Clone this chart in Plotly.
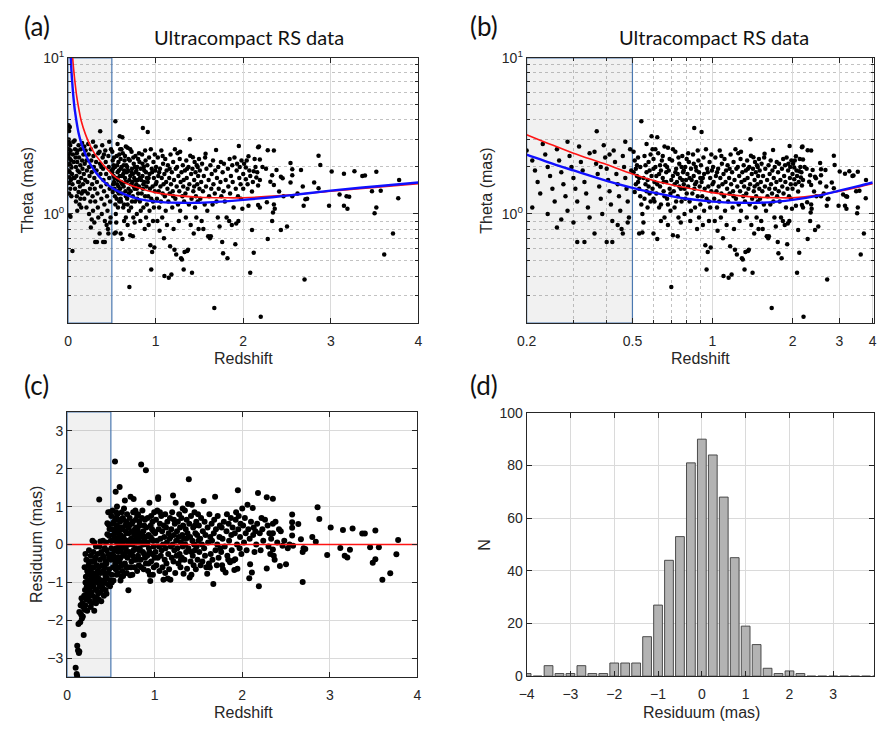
import math
import plotly.graph_objects as go

# ---------------------------------------------------------------- data
# Angular size (mas) against redshift for the ultracompact radio sources
redshift = [
    # z < 0.07
    0.006, 0.012, 0.02, 0.008, 0.015, 0.025, 0.01, 0.03, 0.018, 0.005,
    0.022, 0.035, 0.012, 0.028, 0.04, 0.008, 0.02, 0.045, 0.015, 0.032,
    0.01, 0.05, 0.025, 0.012, 0.038, 0.018, 0.028, 0.05, 0.06, 0.055,
    0.065, 0.06,
    # 0.07 - 0.2
    0.075, 0.08, 0.085, 0.09, 0.095, 0.1, 0.105, 0.11, 0.115, 0.12,
    0.125, 0.13, 0.135, 0.14, 0.145, 0.15, 0.155, 0.16, 0.165, 0.17,
    0.175, 0.18, 0.185, 0.19, 0.195, 0.08, 0.09, 0.1, 0.13, 0.15,
    0.17, 0.12, 0.11, 0.16, 0.14, 0.185, 0.195, 0.075, 0.125, 0.105,
    # 0.2 - 0.35
    0.2, 0.21, 0.215, 0.22, 0.225, 0.23, 0.235, 0.24, 0.245, 0.25,
    0.255, 0.26, 0.265, 0.27, 0.275, 0.28, 0.285, 0.29, 0.295, 0.3,
    0.305, 0.31, 0.315, 0.32, 0.325, 0.33, 0.335, 0.34, 0.345, 0.31,
    0.27, 0.24, 0.3, 0.21, 0.33, 0.26, 0.345, 0.285,
    # 0.35 - 0.5
    0.367, 0.36, 0.365, 0.37, 0.375, 0.38, 0.385, 0.39, 0.395, 0.4,
    0.405, 0.41, 0.415, 0.42, 0.425, 0.43, 0.435, 0.44, 0.445, 0.45,
    0.455, 0.46, 0.465, 0.47, 0.475, 0.48, 0.485, 0.49, 0.495, 0.36,
    0.42, 0.46, 0.4, 0.44, 0.48, 0.38, 0.41, 0.47,
    # 0.5 - 0.6
    0.505, 0.51, 0.515, 0.52, 0.525, 0.53, 0.535, 0.54, 0.545, 0.55,
    0.54, 0.555, 0.56, 0.565, 0.57, 0.575, 0.58, 0.585, 0.59, 0.595,
    0.6, 0.505, 0.51, 0.52, 0.53, 0.545, 0.55, 0.56, 0.565, 0.57,
    0.58, 0.59, 0.595, 0.6, 0.515, 0.525, 0.535, 0.575, 0.585, 0.6,
    0.62, 0.555, 0.6, 0.53, 0.565,
    # 0.6 - 0.7
    0.605, 0.61, 0.615, 0.62, 0.625, 0.63, 0.635, 0.64, 0.645, 0.65,
    0.655, 0.66, 0.665, 0.67, 0.675, 0.68, 0.685, 0.69, 0.695, 0.7,
    0.61, 0.62, 0.63, 0.64, 0.65, 0.66, 0.67, 0.68, 0.69, 0.7,
    0.605, 0.615, 0.635, 0.655, 0.675, 0.695, 0.71, 0.64, 0.68, 0.66,
    # 0.7 - 0.8
    0.705, 0.71, 0.715, 0.72, 0.725, 0.73, 0.735, 0.74, 0.745, 0.75,
    0.755, 0.76, 0.765, 0.77, 0.775, 0.78, 0.785, 0.79, 0.795, 0.8,
    0.71, 0.72, 0.73, 0.74, 0.75, 0.76, 0.77, 0.78, 0.79, 0.8,
    0.725, 0.745, 0.765, 0.785, 0.74,
    # 0.8 - 0.9
    0.805, 0.81, 0.815, 0.82, 0.825, 0.83, 0.835, 0.84, 0.845, 0.85,
    0.854, 0.855, 0.86, 0.865, 0.87, 0.875, 0.88, 0.885, 0.89, 0.895,
    0.9, 0.81, 0.83, 0.85, 0.87, 0.89, 0.82, 0.86, 0.88, 0.9,
    # 0.9 - 1.0
    0.91, 0.905, 0.91, 0.915, 0.92, 0.925, 0.93, 0.935, 0.94, 0.945,
    0.95, 0.955, 0.96, 0.965, 0.97, 0.975, 0.98, 0.985, 0.99, 0.995,
    0.93, 0.95, 0.97, 0.99, 0.92, 0.96, 0.98, 1.0,
    # 1.0 - 1.25
    1.005, 1.01, 1.015, 1.02, 1.025, 1.03, 1.035, 1.04, 1.045, 1.05,
    1.055, 1.06, 1.065, 1.07, 1.075, 1.08, 1.085, 1.09, 1.095, 1.1,
    1.1, 1.105, 1.11, 1.115, 1.12, 1.125, 1.13, 1.135, 1.14, 1.145,
    1.15, 1.155, 1.16, 1.165, 1.17, 1.175, 1.18, 1.185, 1.19, 1.195,
    1.2, 1.205, 1.21, 1.215, 1.22, 1.225, 1.23, 1.235, 1.24, 1.245,
    1.25, 1.04, 1.08, 1.16, 1.2,
    # 1.25 - 1.5
    1.255, 1.26, 1.265, 1.27, 1.275, 1.28, 1.285, 1.29, 1.295, 1.3,
    1.305, 1.31, 1.315, 1.32, 1.325, 1.33, 1.335, 1.34, 1.345, 1.35,
    1.355, 1.36, 1.365, 1.37, 1.375, 1.38, 1.385, 1.39, 1.395, 1.4,
    1.405, 1.41, 1.415, 1.42, 1.425, 1.43, 1.435, 1.44, 1.445, 1.45,
    1.455, 1.46, 1.465, 1.47, 1.475, 1.48, 1.485, 1.49, 1.495, 1.5,
    1.28, 1.32, 1.36, 1.44, 1.48,
    # 1.5 - 1.75
    1.505, 1.51, 1.52, 1.525, 1.53, 1.54, 1.545, 1.55, 1.56, 1.565,
    1.57, 1.575, 1.58, 1.59, 1.6, 1.605, 1.61, 1.62, 1.625, 1.63,
    1.635, 1.64, 1.65, 1.655, 1.66, 1.67, 1.675, 1.68, 1.69, 1.695,
    1.7, 1.71, 1.715, 1.72, 1.73, 1.74, 1.745, 1.75,
    # 1.75 - 2.0
    1.76, 1.765, 1.77, 1.775, 1.78, 1.79, 1.8, 1.81, 1.82, 1.825,
    1.83, 1.84, 1.845, 1.85, 1.86, 1.87, 1.875, 1.88, 1.89, 1.9,
    1.91, 1.915, 1.92, 1.925, 1.93, 1.94, 1.945, 1.95, 1.955, 1.96,
    1.97, 1.975, 1.98, 1.99, 2.0,
    # 2.0 - 2.2
    2.03, 2.08, 2.12, 2.15, 2.17, 2.03, 2.1, 2.06, 2.17, 2.08,
    2.12, 2.1, 2.06, 2.13, 2.17, 2.01, 2.05, 2.14, 2.0, 2.04,
    2.11, 2.16, 2.19, 2.07,
    # 2.2 - 2.55
    2.19, 2.22, 2.26, 2.31, 2.33, 2.35, 2.38, 2.41, 2.43, 2.45,
    2.46, 2.54, 2.35, 2.36, 2.34, 2.33, 2.43, 2.5, 2.28, 2.19,
    2.27, 2.28, 2.35, 2.18, 2.2, 2.54,
    # z > 2.55
    2.56, 2.56, 2.56, 2.62, 2.66, 2.68, 2.71, 2.73, 2.69, 2.7,
    2.81, 2.86, 2.88, 2.86, 2.98, 3.01, 3.1, 3.15, 3.18, 3.21,
    3.15, 3.19, 3.27, 3.36, 3.39, 3.47, 3.52, 3.57, 3.52, 3.5,
    3.71, 3.61, 3.78, 3.77,
]

theta = [
    3.7, 3.4, 3.6, 3.0, 2.85, 2.75, 2.6, 2.55, 2.45, 2.35,
    2.25, 2.2, 2.1, 2.05, 1.98, 1.9, 1.85, 1.8, 1.72, 1.65,
    1.58, 1.55, 1.45, 1.35, 1.3, 0.98, 0.96, 0.58, 2.9, 2.4,
    2.15, 1.7,
    2.95, 2.6, 2.3, 2.0, 1.75, 2.45, 2.15, 1.9, 1.6, 2.75,
    2.3, 1.85, 1.5, 2.05, 2.6, 1.7, 1.35, 2.2, 1.95, 1.55,
    2.4, 1.8, 1.25, 2.1, 1.65, 1.45, 1.2, 1.3, 1.15, 1.1,
    1.4, 1.38, 2.55, 2.85, 1.25, 2.7, 1.4, 1.7, 1.6, 1.05,
    2.55, 2.2, 1.9, 1.6, 1.35, 2.8, 2.4, 2.0, 1.75, 1.45,
    1.2, 2.6, 2.2, 1.85, 1.55, 1.3, 1.05, 2.35, 2.0, 1.7,
    1.45, 1.2, 2.7, 2.15, 1.9, 1.6, 1.35, 1.1, 0.95, 0.66,
    0.92, 1.0, 0.88, 1.1, 0.66, 0.82, 2.45, 2.9,
    3.38, 2.5, 2.1, 1.8, 1.5, 1.25, 1.0, 2.75, 2.3, 1.95,
    1.65, 1.4, 1.15, 0.9, 2.55, 2.15, 1.8, 1.55, 1.3, 1.05,
    0.8, 2.35, 2.0, 1.7, 1.45, 1.2, 0.95, 2.6, 1.9, 0.75,
    0.66, 0.75, 0.66, 0.85, 0.88, 2.0, 2.4, 2.9,
    2.5, 2.2, 1.95, 1.75, 1.6, 1.45, 1.3, 1.15, 1.0, 0.88,
    3.93, 2.35, 2.05, 1.85, 1.65, 1.5, 1.35, 1.2, 3.15, 2.6,
    2.25, 1.85, 1.38, 2.05, 0.75, 0.76, 1.7, 1.55, 2.8, 1.1,
    1.9, 1.75, 1.45, 1.25, 1.55, 2.3, 2.0, 2.15, 2.4, 0.75,
    3.1, 1.25, 1.95, 1.7, 1.4,
    1.6, 2.0, 1.35, 0.69, 2.45, 1.8, 1.5, 1.15, 2.2, 1.7,
    1.4, 0.95, 2.05, 1.6, 1.25, 2.65, 1.9, 1.45, 1.05, 0.34,
    2.6, 1.55, 1.1, 1.9, 2.35, 1.3, 1.85, 1.15, 2.25, 1.65,
    1.2, 1.75, 2.05, 1.6, 2.0, 1.35, 0.73, 0.9, 0.85, 2.7,
    2.2, 1.75, 1.4, 1.1, 2.5, 1.95, 1.6, 1.3, 0.95, 2.1,
    1.7, 1.45, 1.2, 2.35, 1.85, 1.55, 1.0, 2.0, 1.65, 1.35,
    2.6, 1.55, 1.2, 1.8, 1.5, 0.88, 1.65, 1.9, 1.25, 2.25,
    1.85, 2.3, 2.0, 1.45, 0.72,
    1.8, 1.5, 2.15, 1.2, 0.9, 1.95, 1.65, 1.35, 2.4, 1.75,
    3.55, 1.45, 1.1, 2.0, 1.6, 0.8, 1.3, 2.2, 1.85, 1.5,
    1.15, 2.45, 1.05, 2.1, 1.9, 0.95, 1.7, 1.55, 2.55, 1.7,
    3.35, 2.05, 1.6, 1.3, 0.85, 2.3, 1.8, 1.45, 0.63, 2.6,
    0.44, 1.95, 0.57, 1.5, 1.2, 2.15, 1.7, 0.61, 1.4, 1.9,
    1.05, 1.25, 0.9, 2.4, 1.7, 1.85, 1.1, 1.55,
    2.0, 1.6, 1.25, 0.9, 2.3, 1.75, 1.4, 1.1, 0.78, 1.95,
    1.5, 1.2, 2.55, 1.7, 0.95, 1.35, 2.1, 1.55, 0.7, 1.8,
    0.4, 1.3, 2.25, 1.05, 1.6, 1.9, 0.85, 1.45, 2.05, 1.2,
    0.39, 1.7, 1.35, 0.62, 2.4, 1.55, 0.41, 1.85, 1.1, 1.4,
    2.15, 0.8, 1.65, 0.59, 2.6, 1.25, 1.95, 0.55, 1.5, 2.0,
    2.45, 1.85, 2.35, 1.95, 1.3,
    1.15, 1.75, 0.9, 1.4, 2.25, 1.05, 1.6, 0.52, 1.85, 0.51,
    1.3, 2.05, 1.5, 0.44, 1.2, 0.57, 1.9, 1.35, 0.95, 2.2,
    1.7, 0.58, 1.45, 0.59, 2.0, 1.15, 1.55, 3.01, 2.36, 0.85,
    1.8, 1.25, 0.42, 1.95, 2.31, 1.4, 0.75, 1.65, 2.15, 1.1,
    1.85, 1.3, 0.95, 2.05, 1.55, 1.2, 1.75, 0.8, 2.25, 1.45,
    2.5, 1.65, 1.95, 1.5, 2.0,
    1.9, 1.25, 1.6, 0.9, 2.1, 1.4, 0.8, 1.75, 1.15, 2.3,
    2.43, 1.5, 1.95, 1.05, 0.72, 1.65, 1.3, 0.7, 2.05, 0.72,
    1.45, 1.8, 1.15, 2.2, 1.55, 0.25, 1.35, 1.9, 2.57, 1.2,
    1.7, 0.95, 2.0, 1.45, 0.83, 1.6, 2.15, 1.3,
    0.66, 1.85, 0.56, 1.4, 2.1, 1.2, 1.65, 0.95, 0.52, 1.95,
    1.5, 0.9, 2.25, 1.35, 1.75, 0.85, 2.05, 1.6, 1.1, 2.3,
    0.64, 1.45, 0.87, 1.9, 2.1, 1.3, 0.9, 2.72, 1.7, 2.0,
    1.55, 1.25, 2.2, 1.08, 1.8,
    1.98, 1.75, 1.88, 1.71, 1.52, 1.67, 1.39, 1.13, 1.14, 0.42,
    0.565, 0.79, 2.34, 2.25, 2.67, 2.1, 1.55, 2.0, 1.45, 2.2,
    1.6, 1.85, 1.65, 1.9,
    2.23, 2.0, 1.95, 1.61, 1.77, 1.53, 1.91, 1.39, 1.73, 1.69,
    1.3, 1.59, 1.15, 1.08, 1.02, 0.9, 0.79, 0.83, 0.69, 1.1,
    1.19, 2.56, 2.55, 2.7, 0.22, 2.12,
    1.93, 1.77, 1.3, 1.35, 1.91, 1.5, 1.24, 1.25, 1.13, 0.38,
    1.59, 2.36, 2.06, 1.46, 1.13, 1.87, 1.33, 1.81, 1.3, 1.29,
    1.13, 1.08, 1.88, 1.75, 1.76, 1.4, 1.86, 1.41, 1.1, 1.01,
    0.75, 0.55, 1.65, 1.26,
]

# Residuals of the same sources about the fitted relation
res_redshift = [
    # z < 0.2
    0.098, 0.11, 0.115, 0.116, 0.125, 0.135, 0.14, 0.19, 0.15, 0.17,
    0.16, 0.14, 0.18, 0.2, 0.13, 0.155, 0.175, 0.165, 0.185, 0.195,
    # 0.2 - 0.35
    0.205, 0.21, 0.215, 0.22, 0.225, 0.23, 0.235, 0.24, 0.245, 0.25,
    0.255, 0.26, 0.265, 0.27, 0.275, 0.28, 0.285, 0.29, 0.295, 0.3,
    0.305, 0.31, 0.315, 0.32, 0.325, 0.33, 0.335, 0.34, 0.345, 0.35,
    0.21, 0.23, 0.24, 0.26, 0.27, 0.28, 0.29, 0.3, 0.22, 0.25,
    0.31, 0.33, 0.26, 0.28, 0.32, 0.24, 0.3, 0.34, 0.2, 0.27,
    # 0.35 - 0.5
    0.355, 0.36, 0.365, 0.367, 0.37, 0.375, 0.38, 0.385, 0.39, 0.395,
    0.4, 0.405, 0.41, 0.415, 0.42, 0.425, 0.43, 0.435, 0.44, 0.445,
    0.45, 0.455, 0.46, 0.465, 0.47, 0.475, 0.48, 0.485, 0.49, 0.495,
    0.46, 0.47, 0.48, 0.49, 0.38, 0.36, 0.42, 0.44, 0.4, 0.45,
    0.5, 0.37, 0.43, 0.47, 0.39,
    0.21, 0.23, 0.25, 0.29, 0.31, 0.33, 0.35, 0.38, 0.41, 0.44,
    0.48, 0.5, 0.26, 0.34, 0.45,
    # 0.5 - 0.6
    0.505, 0.51, 0.515, 0.52, 0.525, 0.53, 0.535, 0.54, 0.545, 0.547,
    0.55, 0.555, 0.56, 0.565, 0.57, 0.575, 0.58, 0.585, 0.59, 0.595,
    0.6, 0.6, 0.51, 0.52, 0.53, 0.54, 0.55, 0.56, 0.57, 0.58,
    0.59, 0.51, 0.61, 0.52, 0.565, 0.575, 0.585, 0.595, 0.53, 0.545,
    0.555, 0.505, 0.57, 0.59, 0.6,
    # 0.6 - 0.7
    0.605, 0.61, 0.615, 0.62, 0.625, 0.63, 0.635, 0.64, 0.645, 0.65,
    0.655, 0.66, 0.665, 0.67, 0.675, 0.68, 0.685, 0.69, 0.695, 0.7,
    0.61, 0.62, 0.63, 0.64, 0.65, 0.66, 0.67, 0.68, 0.69, 0.7,
    0.615, 0.635, 0.655, 0.675, 0.695, 0.64, 0.66, 0.68, 0.7, 0.62,
    # 0.7 - 0.8
    0.705, 0.71, 0.715, 0.72, 0.725, 0.73, 0.735, 0.74, 0.745, 0.75,
    0.755, 0.76, 0.765, 0.77, 0.775, 0.78, 0.785, 0.79, 0.795, 0.8,
    0.71, 0.72, 0.73, 0.74, 0.75, 0.76, 0.77, 0.78, 0.79, 0.8,
    0.725, 0.745, 0.765, 0.785, 0.8,
    # 0.8 - 0.9
    0.805, 0.81, 0.815, 0.82, 0.825, 0.83, 0.835, 0.84, 0.846, 0.85,
    0.855, 0.86, 0.865, 0.87, 0.875, 0.88, 0.885, 0.89, 0.895, 0.9,
    0.9, 0.81, 0.83, 0.85, 0.87, 0.89, 0.82, 0.86, 0.88, 0.84,
    # 0.9 - 1.0
    0.905, 0.91, 0.915, 0.92, 0.925, 0.93, 0.935, 0.94, 0.945, 0.95,
    0.955, 0.96, 0.965, 0.97, 0.975, 0.98, 0.985, 0.99, 0.995, 0.95,
    0.93, 0.97, 0.99, 0.92, 0.96, 0.98, 1.0, 0.94,
    # 1.0 - 1.25
    1.005, 1.01, 1.015, 1.02, 1.025, 1.03, 1.035, 1.04, 1.045, 1.05,
    1.04, 1.055, 1.06, 1.065, 1.07, 1.075, 1.08, 1.085, 1.09, 1.095,
    1.1, 1.105, 1.11, 1.115, 1.12, 1.125, 1.13, 1.135, 1.14, 1.145,
    1.15, 1.155, 1.16, 1.165, 1.17, 1.175, 1.18, 1.185, 1.19, 1.195,
    1.2, 1.205, 1.21, 1.215, 1.22, 1.225, 1.23, 1.235, 1.24, 1.245,
    1.25, 1.06, 1.12, 1.18, 1.22,
    # 1.25 - 1.5
    1.255, 1.26, 1.265, 1.27, 1.275, 1.28, 1.285, 1.29, 1.295, 1.3,
    1.305, 1.31, 1.315, 1.32, 1.325, 1.33, 1.335, 1.34, 1.345, 1.35,
    1.355, 1.36, 1.365, 1.37, 1.375, 1.38, 1.385, 1.39, 1.395, 1.4,
    1.405, 1.41, 1.415, 1.42, 1.425, 1.43, 1.435, 1.44, 1.445, 1.45,
    1.455, 1.46, 1.465, 1.47, 1.475, 1.48, 1.485, 1.49, 1.495, 1.5,
    1.3, 1.36, 1.42, 1.46, 1.32,
    # 1.5 - 1.75
    1.505, 1.51, 1.52, 1.525, 1.53, 1.54, 1.545, 1.55, 1.56, 1.565,
    1.57, 1.575, 1.58, 1.59, 1.6, 1.605, 1.61, 1.62, 1.625, 1.63,
    1.635, 1.64, 1.65, 1.655, 1.66, 1.67, 1.675, 1.68, 1.69, 1.695,
    1.7, 1.71, 1.715, 1.72, 1.73, 1.74, 1.745, 1.75,
    # 1.75 - 2.0
    1.76, 1.765, 1.77, 1.775, 1.78, 1.79, 1.8, 1.81, 1.82, 1.825,
    1.83, 1.84, 1.845, 1.85, 1.86, 1.87, 1.875, 1.88, 1.89, 1.9,
    1.91, 1.915, 1.92, 1.925, 1.93, 1.94, 1.945, 1.95, 1.955, 1.96,
    1.97, 1.975, 1.98, 1.99, 2.0,
    # 2.0 - 2.25
    2.01, 2.02, 2.03, 2.04, 2.05, 2.06, 2.07, 2.08, 2.085, 2.09,
    2.1, 2.11, 2.12, 2.125, 2.13, 2.14, 2.15, 2.16, 2.17, 2.18,
    2.19, 2.2, 2.21, 2.22, 2.23, 2.24,
    # 2.25 - 2.55
    2.26, 2.28, 2.28, 2.29, 2.3, 2.31, 2.32, 2.33, 2.35, 2.35,
    2.35, 2.35, 2.36, 2.37, 2.38, 2.4, 2.42, 2.43, 2.44, 2.46,
    2.48, 2.5, 2.52, 2.54,
    # z > 2.55
    2.57, 2.57, 2.57, 2.57, 2.58, 2.64, 2.67, 2.69, 2.7, 2.72,
    2.69, 2.8, 2.84, 2.86, 2.88, 2.97, 3.01, 3.12, 3.15, 3.17,
    3.2, 3.23, 3.26, 3.37, 3.4, 3.46, 3.49, 3.52, 3.52, 3.56,
    3.6, 3.69, 3.76, 3.78,
]

residuum = [
    -3.25, -3.42, -3.47, -2.67, -2.8, -2.86, -2.82, -2.39, -2.05, -1.95,
    -1.85, -1.78, -1.9, -1.72, -2.1, -1.6, -1.55, -1.42, -1.65, -1.35,
    -1.2, -1.0, -0.85, -1.45, -1.1, -0.7, -1.3, -0.95, -0.55, -1.2,
    -0.8, -1.5, -1.05, -0.65, -1.25, -0.9, -0.45, -1.35, -0.75, -1.1,
    -0.6, -1.75, -0.95, -0.35, -1.2, -0.8, -1.4, -0.55, -1.0, -0.25,
    -1.6, -1.75, -1.4, -1.15, -0.3, -1.55, 0.1, -0.2, -0.4, -0.15,
    0.05, -0.05, -1.3, -0.6, -1.45, -0.75, -0.85, -1.2, -0.6, -1.65,
    -1.3, -0.9, -0.6, 1.19, -1.1, -0.4, -0.75, -1.25, -0.2, -0.95,
    -0.55, -1.15, 0.1, -0.7, -0.35, -1.0, -0.1, -0.8, -1.2, 0.05,
    -0.5, -0.9, 0.27, -1.05, -0.25, 0.52, -0.65, 0.41, 0.85, -0.95,
    0.56, 0.85, 0.23, -1.1, 0.08, -1.45, -1.35, -0.45, -1.05, -0.15,
    -0.4, -0.05, -0.6, -0.75, -1.5,
    -0.25, -1.0, -0.45, -1.0, -0.45, -1.55, -0.7, -1.0, -0.3, -0.9,
    -0.35, 0.1, -0.95, -0.85, -1.3,
    0.75, 0.4, 0.1, -0.25, -0.6, -0.95, 0.6, 0.2, -0.15, 2.19,
    -0.5, 1.39, 0.85, 0.45, 0.05, -0.35, -0.75, 0.65, 0.3, -0.05,
    1.52, -0.45, -0.8, 0.55, 0.25, -0.4, 0.7, -0.1, 0.5, 0.15,
    -0.6, -1.0, -0.95, 0.9, -0.8, 0.8, -0.2, 0.4, -0.3, 0.35,
    -0.65, -0.1, 1.0, 0.05, 0.2,
    0.6, 0.25, -0.15, -0.55, 0.85, 0.4, 0.0, -0.83, 0.65, 0.15,
    -0.3, 1.16, 0.5, -0.1, -0.6, 0.3, 0.8, -0.35, 0.1, -1.21,
    -0.35, 0.45, -0.7, 0.2, 0.95, -0.5, 0.35, -0.2, 0.55, 0.0,
    0.1, 0.7, -0.05, 0.6, -0.6, -0.25, 0.1, -0.75, 0.45, -0.85,
    0.3, -0.2, 0.7, -0.81, 1.26, 0.15, -0.45, 0.55, 0.0, -0.3,
    0.85, 1.2, 0.25, -0.6, 0.4, -0.1, 0.65, -0.4, 0.2, -0.7,
    0.5, 0.1, -0.6, 0.35, 0.6, -0.15, 0.1, 0.9, 0.45, 0.05,
    -0.25, -0.8, -0.4, 0.3, 0.75,
    0.4, -0.3, 0.15, -0.55, 0.6, -0.1, 0.3, -0.4, 2.11, 0.05,
    0.7, 0.9, -0.2, 0.35, -0.65, 0.5, 0.1, -0.35, 0.2, 1.96,
    -0.5, 0.8, 0.5, -0.6, 0.0, 0.65, -0.15, 0.25, -0.25, 0.2,
    0.45, 0.0, -0.3, 0.7, -0.7, 0.25, -0.1, 1.1, -0.8, -0.96,
    0.5, -0.45, 0.15, -0.25, 0.6, -0.8, 0.35, -0.05, 0.85, 0.2,
    -0.5, 0.4, -0.6, 0.05, 0.75, 0.1, -0.35, -0.2,
    0.3, -0.2, 0.65, -0.55, 0.1, 0.9, -0.35, 1.25, 0.4, -0.05,
    1.2, -0.7, 0.55, 0.15, -0.3, 0.75, -0.15, 0.35, -0.6, 0.0,
    -0.93, 0.5, 0.2, -0.4, 0.8, -0.1, 0.45, -0.5, 0.05, 0.6,
    -0.9, -0.25, 0.3, -0.65, 0.15, 0.7, -0.93, -0.05, 0.4, -0.35,
    0.85, 0.0, 1.29, -0.45, 0.25, -0.15, 0.55, -0.75, 1.1, 0.1,
    -0.3, 0.85, -0.75, 0.2, 0.65,
    0.35, -0.1, 0.6, -0.5, 0.2, 0.8, -0.25, 0.45, -0.6, 0.05,
    0.7, -0.35, 0.25, -0.05, 0.5, -0.77, 0.15, -0.4, 0.9, 0.0,
    0.4, -0.2, 0.65, -0.64, 0.3, 1.07, -0.1, 1.72, 0.55, -0.87,
    0.2, -0.45, 0.75, -0.8, 1.05, 0.1, -0.3, 0.45, -0.55, 0.0,
    0.85, -0.15, 0.3, -0.65, 0.6, -0.05, 0.25, -0.4, 0.8, 0.1,
    -0.4, 0.15, -0.2, 0.5, 0.95,
    0.5, -0.2, 0.15, -0.55, 0.7, 0.0, -0.45, 0.35, 1.15, -0.1,
    0.6, -0.3, 0.25, -0.6, -0.77, 0.45, 0.05, -0.5, 0.8, -0.61,
    0.2, -0.25, 0.55, 0.1, -0.4, -1.04, 0.3, 0.65, 1.26, -0.15,
    0.4, -0.55, 0.0, 0.75, -0.35, 0.2, 0.5, -0.1,
    -0.2, 0.45, -0.55, 0.15, -0.65, 0.6, -0.05, -0.74, 0.35, 0.8,
    -0.3, -0.4, 0.55, 0.1, -0.47, 0.7, 0.25, -0.15, 0.45, -0.42,
    -0.67, 0.3, -0.39, 0.65, 0.85, 0.0, -0.64, 1.43, 0.4, 0.75,
    -0.1, 0.2, 0.55, -0.25, 0.95,
    0.5, 0.05, 0.7, 0.3, -0.15, 1.05, 0.4, -0.89, 0.15, -0.52,
    0.6, -0.74, 0.96, 0.25, 0.45, -0.2, 0.35, 0.0, 0.55, 1.36,
    -1.1, 0.3, -0.15, 0.7, 0.4, 0.1,
    0.65, 1.25, -0.63, 0.5, -0.05, 0.3, -0.25, 0.15, 1.21, 0.55,
    0.3, -0.13, -0.3, -0.4, 0.6, 0.05, 0.4, -0.57, 0.35, -0.03,
    0.1, -0.52, -0.1, 0.0,
    0.79, 0.59, 0.44, 0.24, -0.03, 0.54, 0.14, -0.2, -0.1, -0.12,
    -0.99, 0.2, 0.07, 0.98, 0.67, -0.28, 0.45, -0.09, 0.38, -0.3,
    -0.34, -0.14, 0.42, 0.29, 0.29, -0.07, -0.48, -0.39, 0.37, -0.07,
    -0.93, -0.76, -0.26, 0.12,
]

# Fitted angular-size relations (red and blue models)
fit_red_z = [0.045, 0.05, 0.06, 0.07, 0.08, 0.1, 0.12, 0.15, 0.2, 0.25,
             0.3, 0.4, 0.5, 0.6, 0.7, 0.8, 1.0, 1.25, 1.5, 1.75,
             2.0, 2.5, 3.0, 3.5, 4.0]
fit_red_theta = [11.6, 10.5, 8.9, 7.8, 6.9, 5.6, 4.8, 3.95, 3.22, 2.76,
                 2.45, 2.07, 1.80, 1.64, 1.54, 1.47, 1.37, 1.31, 1.28, 1.27,
                 1.27, 1.32, 1.40, 1.48, 1.56]
fit_blue_z = [0.028, 0.03, 0.04, 0.05, 0.06, 0.07, 0.08, 0.1, 0.12, 0.15,
              0.2, 0.25, 0.3, 0.4, 0.5, 0.6, 0.7, 0.8, 1.0, 1.25,
              1.5, 1.75, 2.0, 2.5, 3.0, 3.5, 4.0]
fit_blue_theta = [11.0, 10.3, 8.0, 6.7, 5.7, 5.0, 4.5, 3.8, 3.3, 2.85,
                  2.4, 2.1, 1.9, 1.63, 1.47, 1.37, 1.30, 1.25, 1.20, 1.18,
                  1.18, 1.20, 1.23, 1.31, 1.41, 1.50, 1.59]

# Zero-residual reference
zero_line_z = [0.0, 4.0]
zero_line_res = [0.0, 0.0]

# Histogram of residuals (bin centres and counts)
hist_centers = [-4.0, -3.75, -3.5, -3.25, -3.0, -2.75, -2.5, -2.25, -2.0, -1.75,
                -1.5, -1.25, -1.0, -0.75, -0.5, -0.25, 0.0, 0.25, 0.5, 0.75,
                1.0, 1.25, 1.5, 1.75, 2.0, 2.25, 2.5, 2.75, 3.0, 3.25,
                3.5, 3.75, 4.0]
hist_counts = [1, 0, 4, 1, 1, 4, 1, 1, 5, 5,
               5, 15, 27, 44, 53, 81, 90, 84, 68, 45,
               19, 12, 3, 1, 2, 1, 0, 0, 0, 0,
               0, 0, 0]

# Low-redshift subsample boundary and axis limits
low_z_cut = 0.5
theta_lim = [0.2, 10.0]
res_lim = [-3.5, 3.5]
z_lin_lim = [0.0, 4.0]
z_log_lim = [0.2, 4.05]

assert len(redshift) == len(theta)
assert len(res_redshift) == len(residuum)

# ---------------------------------------------------------------- layout helpers
W, H = 878, 731


def fx(p):
    return p / W


def fy(p):
    return 1 - p / H


INK = "#262626"
TICK_FONT = dict(family="Liberation Sans, Arial, sans-serif", size=14, color=INK)
LABEL_FONT = dict(family="Liberation Sans, Arial, sans-serif", size=16, color=INK)
TITLE_FONT = dict(family="Lato, Open Sans, sans-serif", size=20, color="#111111")
LETTER_FONT = dict(family="Lato, Open Sans, sans-serif", size=26, color="#111111")

GRID = "#dadada"
MINOR_GRID = "#c2c2c2"
SHADE_FILL = "rgba(120,120,120,0.10)"
SHADE_EDGE = "#4a78b0"


def axis(**kw):
    base = dict(
        showline=True, linecolor=INK, linewidth=1, mirror="ticks",
        ticks="inside", ticklen=5, tickcolor=INK, tickfont=TICK_FONT,
        showgrid=True, gridcolor=GRID, gridwidth=1, zeroline=False,
        fixedrange=True,
    )
    base.update(kw)
    return base


log_minor_theta = [0.3, 0.4, 0.5, 0.6, 0.7, 0.8, 0.9, 2, 3, 4, 5, 6, 7, 8, 9]
log_minor_z = [0.3, 0.4, 0.6, 0.7, 0.8, 0.9]

fig = go.Figure()

# ---------------------------------------------------------------- (a) linear redshift
fig.add_trace(go.Scatter(
    x=[z_lin_lim[0], low_z_cut, low_z_cut, z_lin_lim[0], z_lin_lim[0]],
    y=[theta_lim[0], theta_lim[0], theta_lim[1], theta_lim[1], theta_lim[0]],
    fill="toself", fillcolor=SHADE_FILL, mode="lines",
    line=dict(color=SHADE_EDGE, width=1.2), xaxis="x", yaxis="y",
    hoverinfo="skip"))
fig.add_trace(go.Scatter(
    x=redshift, y=theta, mode="markers",
    marker=dict(color="black", size=4.5), xaxis="x", yaxis="y"))
fig.add_trace(go.Scatter(
    x=fit_red_z, y=fit_red_theta, mode="lines", line_shape="spline",
    line=dict(color="#ff1414", width=1.6), xaxis="x", yaxis="y"))
fig.add_trace(go.Scatter(
    x=fit_blue_z, y=fit_blue_theta, mode="lines", line_shape="spline",
    line=dict(color="#1010ff", width=2.4), xaxis="x", yaxis="y"))

# ---------------------------------------------------------------- (b) log redshift
fig.add_trace(go.Scatter(
    x=[z_log_lim[0], low_z_cut, low_z_cut, z_log_lim[0], z_log_lim[0]],
    y=[theta_lim[0], theta_lim[0], theta_lim[1], theta_lim[1], theta_lim[0]],
    fill="toself", fillcolor=SHADE_FILL, mode="lines",
    line=dict(color=SHADE_EDGE, width=1.2), xaxis="x2", yaxis="y2",
    hoverinfo="skip"))
fig.add_trace(go.Scatter(
    x=redshift, y=theta, mode="markers",
    marker=dict(color="black", size=4.5), xaxis="x2", yaxis="y2"))
fig.add_trace(go.Scatter(
    x=fit_red_z, y=fit_red_theta, mode="lines", line_shape="spline",
    line=dict(color="#ff1414", width=1.6), xaxis="x2", yaxis="y2"))
fig.add_trace(go.Scatter(
    x=fit_blue_z, y=fit_blue_theta, mode="lines", line_shape="spline",
    line=dict(color="#1010ff", width=2.4), xaxis="x2", yaxis="y2"))

# ---------------------------------------------------------------- (c) residuals
fig.add_trace(go.Scatter(
    x=[z_lin_lim[0], low_z_cut, low_z_cut, z_lin_lim[0], z_lin_lim[0]],
    y=[res_lim[0], res_lim[0], res_lim[1], res_lim[1], res_lim[0]],
    fill="toself", fillcolor=SHADE_FILL, mode="lines",
    line=dict(color=SHADE_EDGE, width=1.2), xaxis="x3", yaxis="y3",
    hoverinfo="skip"))
fig.add_trace(go.Scatter(
    x=res_redshift, y=residuum, mode="markers",
    marker=dict(color="black", size=6), xaxis="x3", yaxis="y3"))
fig.add_trace(go.Scatter(
    x=zero_line_z, y=zero_line_res, mode="lines",
    line=dict(color="#ff1414", width=1.6), xaxis="x3", yaxis="y3"))

# ---------------------------------------------------------------- (d) histogram
fig.add_trace(go.Bar(
    x=hist_centers, y=hist_counts, width=0.2,
    marker=dict(color="#b3b3b3", line=dict(color="#3c3c3c", width=0.9)),
    xaxis="x4", yaxis="y4"))

fig.update_layout(
    width=W, height=H, margin=dict(l=0, r=0, t=0, b=0),
    paper_bgcolor="white", plot_bgcolor="white", showlegend=False,
    xaxis=axis(domain=[fx(59), fx(415)], range=z_lin_lim, anchor="y",
               tickvals=[0, 1, 2, 3, 4], ticklabelstandoff=5),
    yaxis=axis(domain=[fy(321), fy(49)], type="log", anchor="x",
               range=[math.log10(theta_lim[0]), math.log10(theta_lim[1])],
               tickvals=[1, 10], ticktext=["10<sup>0</sup>", "10<sup>1</sup>"],
               minor=dict(tickvals=log_minor_theta, ticks="inside", ticklen=3,
                          tickcolor=INK, showgrid=True, gridcolor=MINOR_GRID,
                          griddash="dot", gridwidth=1)),
    xaxis2=axis(domain=[fx(525), 1.0], type="log", anchor="y2",
                range=[math.log10(z_log_lim[0]), math.log10(z_log_lim[1])],
                tickvals=[0.2, 0.5, 1, 2, 3, 4],
                ticktext=["0.2", "0.5", "1", "2", "3", "4"],
                ticklabelstandoff=5,
                minor=dict(tickvals=log_minor_z, ticks="inside", ticklen=3,
                           tickcolor=INK, showgrid=True, gridcolor=MINOR_GRID,
                           griddash="dot", gridwidth=1)),
    yaxis2=axis(domain=[fy(321), fy(49)], type="log", anchor="x2",
                range=[math.log10(theta_lim[0]), math.log10(theta_lim[1])],
                tickvals=[1, 10], ticktext=["10<sup>0</sup>", "10<sup>1</sup>"],
                minor=dict(tickvals=log_minor_theta, ticks="inside", ticklen=3,
                           tickcolor=INK, showgrid=True, gridcolor=MINOR_GRID,
                           griddash="dot", gridwidth=1)),
    xaxis3=axis(domain=[fx(58), fx(414)], range=z_lin_lim, anchor="y3",
                tickvals=[0, 1, 2, 3, 4], ticklabelstandoff=5),
    yaxis3=axis(domain=[fy(684), fy(412)], range=res_lim, anchor="x3",
                tickvals=[-3, -2, -1, 0, 1, 2, 3]),
    xaxis4=axis(domain=[fx(525), 1.0], range=[-4, 3.93], anchor="y4",
                tickvals=[-4, -3, -2, -1, 0, 1, 2, 3, 4], ticklabelstandoff=5),
    yaxis4=axis(domain=[fy(683), fy(413)], range=[0, 100], anchor="x4",
                tickvals=[0, 20, 40, 60, 80, 100]),
)


def label(text, x, y, font, angle=0):
    fig.add_annotation(text=text, x=fx(x), y=fy(y), xref="paper", yref="paper",
                       showarrow=False, font=font, textangle=angle,
                       xanchor="center", yanchor="middle")


label("(a)", 27, 16, LETTER_FONT)
label("(b)", 482, 16, LETTER_FONT)
label("(c)", 27, 384, LETTER_FONT)
label("(d)", 482, 384, LETTER_FONT)
label("Ultracompact RS data", 243, 28, TITLE_FONT)
label("Ultracompact RS data", 715, 28, TITLE_FONT)
label("Redshift", 237, 357, LABEL_FONT)
label("Redshift", 702, 357, LABEL_FONT)
label("Redshift", 237, 720, LABEL_FONT)
label("Residuum (mas)", 703, 720, LABEL_FONT)
label("Theta (mas)", 18, 185, LABEL_FONT, -90)
label("Theta (mas)", 484, 185, LABEL_FONT, -90)
label("Residuum (mas)", 27, 548, LABEL_FONT, -90)
label("N", 482, 548, LABEL_FONT, -90)

# the page body keeps no default margin, so the figure fills the window exactly
fig.write_html("out.html", post_script="document.body.style.margin='0';")
